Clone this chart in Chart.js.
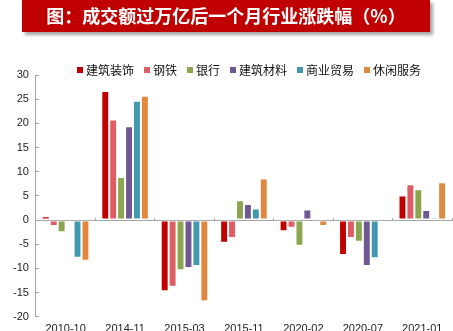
<html><head><meta charset="UTF-8">
<title>成交额过万亿后一个月行业涨跌幅</title>
<script src="https://cdn.jsdelivr.net/npm/chart.js"></script>
<style>
body {
  margin: 0;
  width: 453px;
  height: 331px;
  overflow: hidden;
  background: #fff;
  font-family: 'Noto Sans CJK SC', sans-serif;
}
.wrap {
  position: relative;
  width: 453px;
  height: 331px;
}
.title-bar {
  position: absolute;
  left: 22px;
  top: 0;
  width: 408px;
  height: 32px;
  background: #c00000;
  box-shadow: 3px 3px 3px rgba(0,0,0,0.35);
  color: #fff;
  font-weight: bold;
  font-size: 18px;
  line-height: 31px;
  text-align: center;
  z-index: 2;
}
.legend {
  position: absolute;
  left: 77px;
  top: 61px;
  display: flex;
  font-size: 12px;
  line-height: 17px;
  color: #111;
  z-index: 2;
}
.legend-item {
  display: flex;
  align-items: center;
  margin-right: 10px;
}
.legend-box {
  width: 6px;
  height: 6px;
  margin-right: 3px;
}
.chart-box {
  position: absolute;
  left: 0;
  top: 0;
  width: 453px;
  height: 347px;
}
</style>
</head>
<body>
<div class="wrap">
  <div class="title-bar">图：成交额过万亿后一个月行业涨跌幅（%）</div>
  <div class="legend" id="legend"></div>
  <div class="chart-box"><canvas id="barChart"></canvas></div>
</div>

<script>
const months = ['2010-10', '2014-11', '2015-03', '2015-11', '2020-02', '2020-07', '2021-01'];
const seriesNames = ['建筑装饰', '钢铁', '银行', '建筑材料', '商业贸易', '休闲服务'];
const seriesColors = ['#c00000', '#e05c63', '#8ba64f', '#705892', '#4199b1', '#e0883e'];

// 各行业涨跌幅 (%)，按月份顺序
const jianzhuZhuangshi = [0.8, 26.7, -14.7, -4.7, -2.3, -7.2, 5.1];
const gangtie = [-1.2, 20.8, -13.8, -3.7, -1.6, -3.7, 7.4];
const yinhang = [-2.5, 8.9, -10.4, 4.1, -5.3, -4.5, 6.4];
const jianzhuCailiao = [-0.3, 19.4, -9.9, 3.3, 2.2, -9.5, 2.1];
const shangyeMaoyi = [-7.8, 24.7, -9.5, 2.4, -0.2, -7.9, 0.6];
const xiuxianFuwu = [-8.4, 25.7, -16.8, 8.6, -1.2, 0.3, 7.8];

const yTicks = [-20, -15, -10, -5, 0, 5, 10, 15, 20, 25, 30];

const seriesValues = [jianzhuZhuangshi, gangtie, yinhang, jianzhuCailiao, shangyeMaoyi, xiuxianFuwu];

// legend
const legendEl = document.getElementById('legend');
seriesNames.forEach((name, i) => {
  const item = document.createElement('div');
  item.className = 'legend-item';
  item.innerHTML = '<span class="legend-box" style="background:' + seriesColors[i] + '"></span>' + name;
  legendEl.appendChild(item);
});

const axisGray = '#a6a6a6';

const ctx = document.getElementById('barChart').getContext('2d');
new Chart(ctx, {
  type: 'bar',
  data: {
    labels: months,
    datasets: seriesNames.map((name, i) => ({
      label: name,
      data: seriesValues[i],
      backgroundColor: seriesColors[i],
      borderColor: 'rgba(255,255,255,0.45)',
      borderWidth: 1,
      borderSkipped: false,
      barPercentage: 1,
      categoryPercentage: 0.8
    }))
  },
  options: {
    responsive: true,
    maintainAspectRatio: false,
    animation: false,
    layout: { padding: { top: 75, left: 3, right: 1, bottom: 5 } },
    plugins: {
      legend: { display: false },
      tooltip: { enabled: false }
    },
    scales: {
      x: {
        position: 'bottom',
        offset: true,
        grid: { display: false, drawTicks: false },
        border: { display: false },
        ticks: {
          padding: 6,
          color: '#222',
          font: { family: 'Liberation Sans', size: 11 }
        }
      },
      x2: {
        type: 'category',
        position: { y: 0 },
        offset: true,
        grid: {
          offset: true,
          drawOnChartArea: false,
          drawTicks: true,
          tickLength: -3,
          color: axisGray
        },
        border: { display: true, color: axisGray },
        ticks: { display: false }
      },
      y: {
        min: -20,
        max: 30,
        afterBuildTicks: (scale) => {
          scale.ticks = yTicks.map(v => ({ value: v }));
        },
        grid: {
          drawOnChartArea: true,
          color: (c) => (c.tick && c.tick.value === 0 ? axisGray : 'rgba(0,0,0,0)'),
          tickColor: axisGray,
          tickLength: -3
        },
        border: { display: true, color: axisGray },
        ticks: {
          padding: 10,
          color: '#222',
          font: { family: 'Liberation Sans', size: 11 }
        }
      }
    }
  }
});
</script>
</body></html>
